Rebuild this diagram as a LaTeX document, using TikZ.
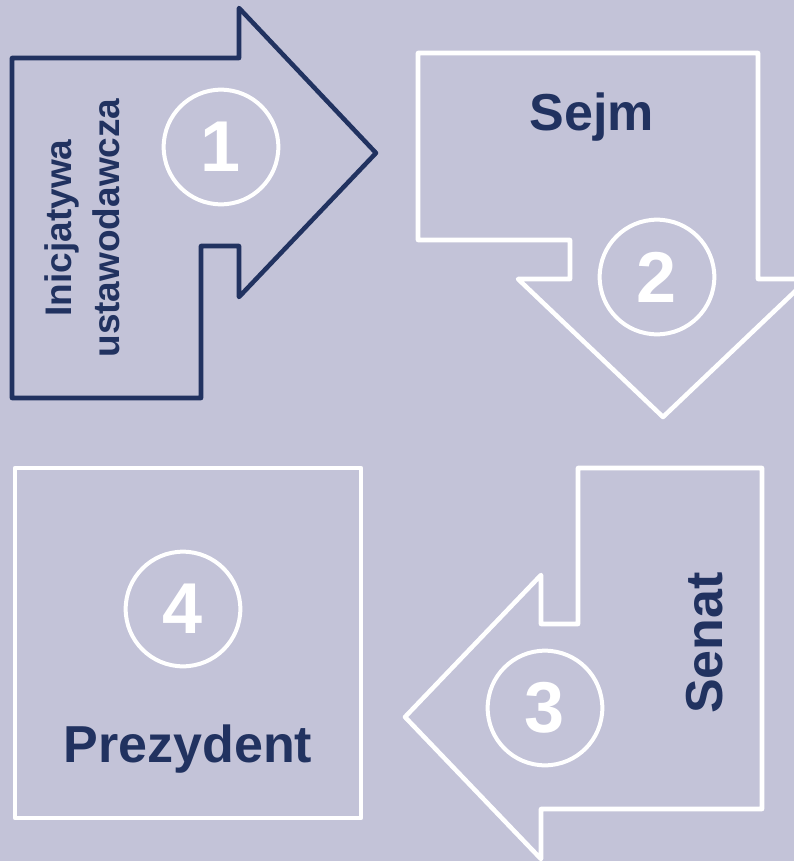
\documentclass[tikz,border=0pt]{standalone}
\usepackage{fontspec}
\setmainfont{Liberation Sans}
\definecolor{bglav}{RGB}{195,195,216}
\definecolor{inkblue}{RGB}{33,50,96}
\tikzset{every picture/.style={line width=0.75pt}}
\tikzset{
	stepline/.style={line width=3.4pt, line join=round},
	numcircle/.style={circle, draw=white, line width=3pt, minimum size=86pt, inner sep=0pt, text=white, font=\fontsize{54}{54}\selectfont\bfseries},
	bigtext/.style={text=inkblue, font=\fontsize{39}{39}\selectfont\bfseries},
	smalltext/.style={text=inkblue, align=center, font=\fontsize{27.75}{36}\selectfont\bfseries}}

\begin{document}
\begin{tikzpicture}[x=0.75pt,y=0.75pt,yscale=-1,xscale=1]
	%Background
	\fill [bglav] (0,0) rectangle (794,861);
	\useasboundingbox (0,0) rectangle (794,861);

	%Right Arrow [id:step1]
	\draw [stepline, draw=inkblue] (12,58) -- (239,58) -- (239,8) -- (376,153) -- (239,297) -- (239,246) -- (201,246) -- (201,398) -- (12,398) -- cycle ;
	%Down Arrow [id:step2]
	\draw [stepline, draw=white] (418,53) -- (758,53) -- (758,279) -- (808,279) -- (663,417) -- (518,279) -- (570,279) -- (570,240) -- (418,240) -- cycle ;
	%Left Arrow [id:step3]
	\draw [stepline, draw=white] (578,468) -- (762,468) -- (762,809) -- (541,809) -- (541,859) -- (405,717) -- (541,575) -- (541,624) -- (578,624) -- cycle ;
	%Shape: Rectangle [id:step4]
	\draw [stepline, draw=white] (15,468) -- (361,468) -- (361,818) -- (15,818) -- cycle ;

	% Number Nodes
	\node [numcircle] (num1) at (221,147) {1};
	\node [numcircle] (num2) at (657,277) {2};
	\node [numcircle] (num3) at (545,708) {3};
	\node [numcircle] (num4) at (183,609) {4};

	% Text Node
	\node [smalltext, rotate=90] (inicjatywa) at (82,228) {Inicjatywa\\ustawodawcza};
	% Text Node
	\node [bigtext, anchor=base] (sejm) at (592,130) {Sejm};
	% Text Node
	\node [bigtext, anchor=base, rotate=90] (senat) at (722,643) {Senat};
	% Text Node
	\node [bigtext, anchor=base] (prezydent) at (188,762) {Prezydent};

\end{tikzpicture}
\end{document}
